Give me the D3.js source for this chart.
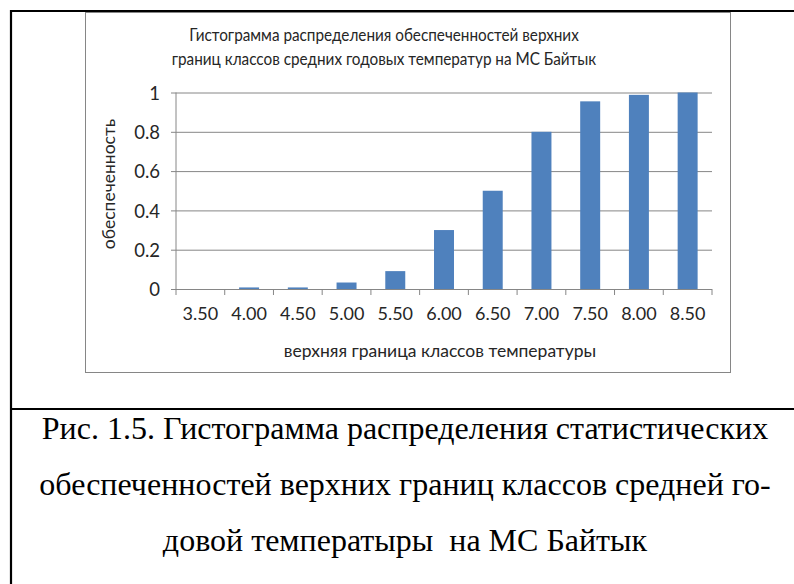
<!DOCTYPE html>
<html>
<head>
<meta charset="utf-8">
<script src="https://cdn.jsdelivr.net/npm/d3@7"></script>
<style>
  html, body { margin: 0; padding: 0; background: #fff; }
  svg { display: block; }
  text { white-space: pre; }
</style>
</head>
<body>
<svg id="fig" width="794" height="584"></svg>
<script>
// Upper class boundaries of mean annual temperature and their exceedance probability
const classBounds = ["3.50", "4.00", "4.50", "5.00", "5.50", "6.00", "6.50", "7.00", "7.50", "8.00", "8.50"];
const probability = [0, 0.008, 0.008, 0.033, 0.091, 0.30, 0.50, 0.80, 0.955, 0.988, 1.0];
const yTicks = [0, 0.2, 0.4, 0.6, 0.8, 1];

const chartTitle = [
  "Гистограмма распределения обеспеченностей верхних",
  "границ классов средних годовых температур на МС Байтык"
];
const xTitle = "верхняя граница классов температуры";
const yTitle = "обеспеченность";
const caption = [
  "Рис. 1.5. Гистограмма распределения статистических",
  "обеспеченностей верхних границ классов средней го-",
  "довой температыры  на МС Байтык"
];

const svg = d3.select("#fig");
const chartFont = "Lato, 'Open Sans', sans-serif";
const axisGrey = "#868686";
const textColor = "#262626";

// Page frame: left and top rules plus the rule above the caption
svg.append("line").attr("x1", 11).attr("x2", 11).attr("y1", 10).attr("y2", 584)
  .attr("stroke", "#000").attr("stroke-width", 2.2);
svg.append("line").attr("x1", 10).attr("x2", 794).attr("y1", 11).attr("y2", 11)
  .attr("stroke", "#000").attr("stroke-width", 2.2);
svg.append("line").attr("x1", 10).attr("x2", 794).attr("y1", 409).attr("y2", 409)
  .attr("stroke", "#000").attr("stroke-width", 2.2);

// Chart area border
svg.append("rect").attr("x", 85.5).attr("y", 12.5).attr("width", 645).attr("height", 360)
  .attr("fill", "#fff").attr("stroke", axisGrey).attr("stroke-width", 1);

// Plot area
const plot = { left: 176, right: 712, top: 92.5, bottom: 289 };

const x = d3.scaleBand()
  .domain(classBounds)
  .range([plot.left, plot.right])
  .paddingInner(0.59)
  .paddingOuter(0.295);

const y = d3.scaleLinear()
  .domain([0, 1])
  .range([plot.bottom, plot.top]);

const g = svg.append("g");

// Horizontal gridlines with outward ticks on the value axis
const yAxis = d3.axisLeft(y).tickValues(yTicks).tickFormat(d => d3.format("")(d))
  .tickSize(-(plot.right - plot.left)).tickPadding(16);
const yG = g.append("g").attr("transform", `translate(${plot.left},0)`).call(yAxis);
yG.select(".domain").remove();
yG.selectAll(".tick line").attr("stroke", axisGrey).attr("stroke-width", 1)
  .attr("x1", -5);
yG.selectAll(".tick text")
  .attr("font-family", chartFont).attr("font-size", 18.5).attr("fill", textColor)
  .attr("dy", "0.36em");

// Bars
g.append("g").selectAll("rect")
  .data(classBounds.map((c, i) => ({ c, v: probability[i] })))
  .join("rect")
  .attr("x", d => x(d.c))
  .attr("width", x.bandwidth())
  .attr("y", d => y(d.v))
  .attr("height", d => y(0) - y(d.v))
  .attr("fill", "#4F81BD");

// Value axis line
g.append("line").attr("x1", plot.left).attr("x2", plot.left)
  .attr("y1", plot.top).attr("y2", plot.bottom)
  .attr("stroke", axisGrey).attr("stroke-width", 1);

// Category axis: line, tick marks between categories, labels under each band
const xAxis = d3.axisBottom(x).tickSize(0).tickPadding(18);
const xG = g.append("g").attr("transform", `translate(0,${plot.bottom})`).call(xAxis);
xG.select(".domain").attr("stroke", axisGrey).attr("d", `M${plot.left},0.5H${plot.right}`);
xG.selectAll(".tick line").remove();
xG.selectAll(".tick text")
  .attr("font-family", chartFont).attr("font-size", 18).attr("fill", textColor);

const step = x.step();
xG.append("g").selectAll("line")
  .data(d3.range(classBounds.length + 1))
  .join("line")
  .attr("x1", i => plot.left + i * step).attr("x2", i => plot.left + i * step)
  .attr("y1", 0).attr("y2", 6)
  .attr("stroke", axisGrey).attr("stroke-width", 1);

// Chart title (slightly condensed face)
svg.append("g").selectAll("text")
  .data(chartTitle)
  .join("text")
  .attr("transform", (d, i) => `translate(384,${41 + i * 24}) scale(0.9,1)`)
  .attr("text-anchor", "middle")
  .attr("font-family", chartFont).attr("font-size", 17).attr("fill", textColor)
  .text(d => d);

// Axis titles
svg.append("text")
  .attr("x", 440).attr("y", 357)
  .attr("text-anchor", "middle")
  .attr("font-family", chartFont).attr("font-size", 17.5).attr("fill", textColor)
  .text(xTitle);

svg.append("text")
  .attr("transform", "translate(115,184) rotate(-90)")
  .attr("text-anchor", "middle")
  .attr("font-family", chartFont).attr("font-size", 17.5).attr("fill", textColor)
  .text(yTitle);

// Figure caption
svg.append("g").selectAll("text")
  .data(caption)
  .join("text")
  .attr("x", 405).attr("y", (d, i) => 439 + i * 56)
  .attr("text-anchor", "middle")
  .attr("font-family", "'Liberation Serif', 'Times New Roman', serif")
  .attr("font-size", 32).attr("fill", "#000")
  .text(d => d);
</script>
</body>
</html>
